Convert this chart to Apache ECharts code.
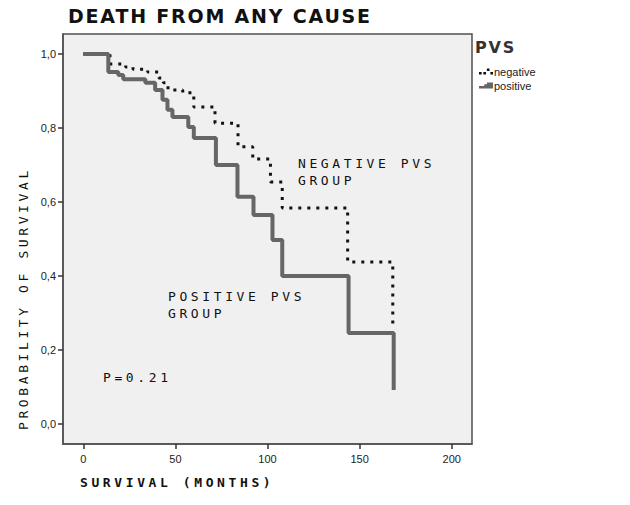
<!DOCTYPE html>
<html><head><meta charset="utf-8">
<script src="https://cdn.jsdelivr.net/npm/echarts@6/dist/echarts.min.js"></script>
<style>
html,body{margin:0;padding:0;background:#fff;}
#c{width:630px;height:505px;}
#c text[style*="Mono"]{letter-spacing:3.6px;}
#c text[style*="Verdana"]{letter-spacing:1.8px;}
</style></head><body><div id="c"></div>
<script>
// tick labels
const xTicks = [0, 50, 100, 150, 200];
const yTicks = [0, 0.2, 0.4, 0.6, 0.8, 1.0];
// Kaplan-Meier steps: time (months) of each drop and survival after it
const negTimes = [0, 14.5, 23, 27, 35, 41, 43.5, 46, 54, 60, 71.5, 84, 92, 101.6, 108, 143.5, 168];
const negSurv  = [1, 0.973, 0.965, 0.959, 0.951, 0.935, 0.922, 0.903, 0.895, 0.857, 0.813, 0.749, 0.716, 0.654, 0.584, 0.438, 0.268];
const posTimes = [0, 13.6, 19, 21.7, 33.7, 39, 43, 45.7, 48.4, 57, 60, 72, 83.7, 92.4, 102.7, 108, 144, 168.5];
const posSurv  = [1, 0.951, 0.943, 0.932, 0.922, 0.903, 0.876, 0.849, 0.830, 0.803, 0.773, 0.700, 0.614, 0.565, 0.497, 0.400, 0.246, 0.092];
const seriesNames = ['negative', 'positive'];
const titleText = 'DEATH FROM ANY CAUSE';
const xName = 'SURVIVAL (MONTHS)';
const yName = 'PROBABILITY OF SURVIVAL';
const legendTitle = 'PVS';
const pText = 'P=0.21';

const toPairs = (t, s) => t.map((v, i) => [v, s[i]]);
const chart = echarts.init(document.getElementById('c'), null, {renderer: 'svg'});
const mono = '13px "DejaVu Sans Mono"';
const monoB = 'bold 13px "DejaVu Sans Mono"';
const axisLine = {show: true, onZero: false, lineStyle: {color: '#505050', width: 1.5}};
chart.setOption({
  animation: false,
  backgroundColor: '#fff',
  grid: {left: 63, right: 158, top: 34, bottom: 61, show: true, backgroundColor: '#f0f0f0', borderColor: '#505050', borderWidth: 1.5},
  xAxis: {
    type: 'value', min: -11, max: 211,
    axisLine: axisLine,
    splitLine: {show: false},
    axisTick: {show: true, length: 5, customValues: xTicks, lineStyle: {color: '#333', width: 1.5}},
    axisLabel: {customValues: xTicks, margin: 9, color: '#222', fontSize: 11, fontFamily: 'Liberation Sans'}
  },
  yAxis: {
    type: 'value', min: -0.054, max: 1.054,
    axisLine: axisLine,
    splitLine: {show: false},
    axisTick: {show: true, length: 5, customValues: yTicks, lineStyle: {color: '#333', width: 1.5}},
    axisLabel: {customValues: yTicks, margin: 7, color: '#222', fontSize: 11, fontFamily: 'Liberation Sans',
      formatter: v => v.toFixed(1).replace('.', ',')}
  },
  legend: {
    orient: 'vertical', left: 474, top: 61, itemWidth: 14, itemHeight: 7, itemGap: 3,
    textStyle: {color: '#222', fontSize: 11, fontFamily: 'Liberation Sans', padding: [0, 0, 0, -4]},
    data: [
      {name: seriesNames[0], icon: 'path://M0,4h3v3h-3z M5,4h3v3h-3z M9,0h3v3h-3z M13,4h3v3h-3z'},
      {name: seriesNames[1], icon: 'path://M0,4h6v-2h3v-2h7v7h-16z'}
    ]
  },
  series: [
    {name: seriesNames[0], type: 'line', step: 'end', symbol: 'none', data: toPairs(negTimes, negSurv),
     lineStyle: {color: '#111', width: 3, type: [3, 6], cap: 'butt'}, itemStyle: {color: '#111'}},
    {name: seriesNames[1], type: 'line', step: 'end', symbol: 'none', data: toPairs(posTimes, posSurv),
     lineStyle: {color: '#666', width: 4}, itemStyle: {color: '#666'}}
  ],
  graphic: [
    {type: 'text', x: 68, y: 16, style: {text: titleText, font: 'bold 19px Verdana, "DejaVu Sans"', fill: '#111', align: 'left', verticalAlign: 'middle'}},
    {type: 'text', x: 475, y: 47, style: {text: legendTitle, font: 'bold 16px Verdana, "DejaVu Sans"', fill: '#333', align: 'left', verticalAlign: 'middle'}},
    {type: 'text', x: 80, y: 482, style: {text: xName, font: monoB, fill: '#111', align: 'left', verticalAlign: 'middle'}},
    {type: 'text', x: 23, y: 430, rotation: Math.PI / 2, style: {text: yName, font: mono, fill: '#111', align: 'left', verticalAlign: 'middle'}},
    {type: 'text', x: 298, y: 163, style: {text: 'NEGATIVE PVS', font: mono, fill: '#111', align: 'left', verticalAlign: 'middle'}},
    {type: 'text', x: 298, y: 180, style: {text: 'GROUP', font: mono, fill: '#111', align: 'left', verticalAlign: 'middle'}},
    {type: 'text', x: 168, y: 296, style: {text: 'POSITIVE PVS', font: mono, fill: '#111', align: 'left', verticalAlign: 'middle'}},
    {type: 'text', x: 168, y: 313, style: {text: 'GROUP', font: mono, fill: '#111', align: 'left', verticalAlign: 'middle'}},
    {type: 'text', x: 103, y: 377, style: {text: pText, font: mono, fill: '#111', align: 'left', verticalAlign: 'middle'}}
  ]
});
</script></body></html>
